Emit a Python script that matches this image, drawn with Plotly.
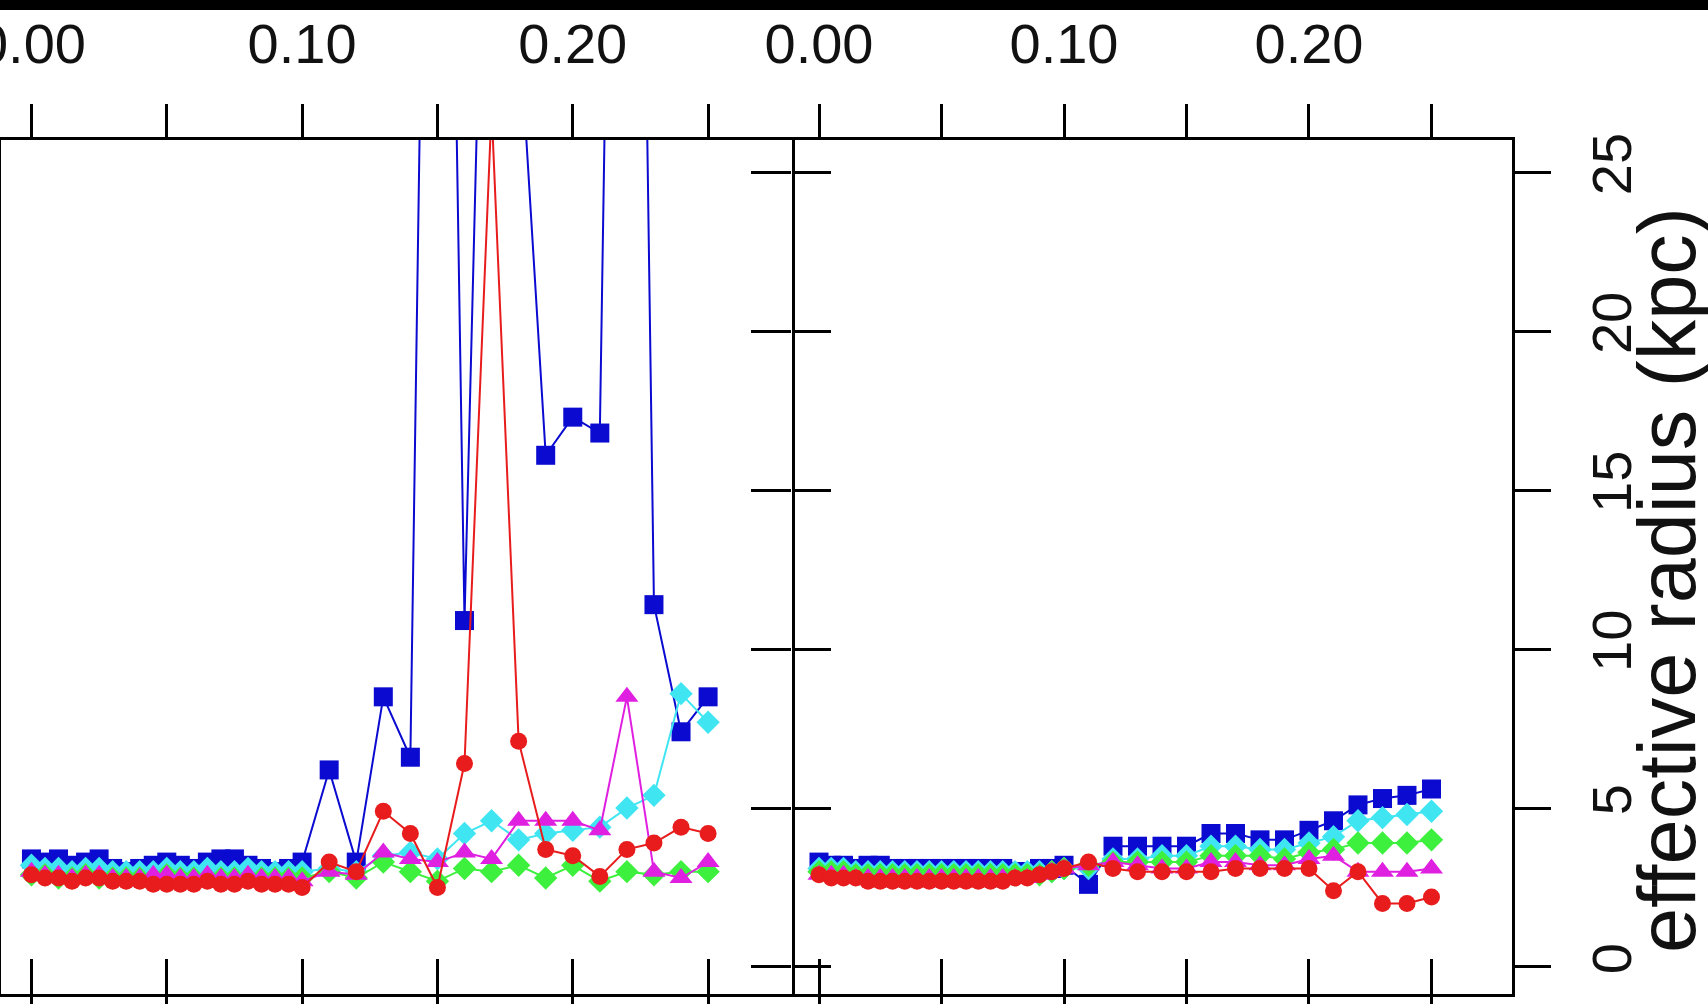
import plotly.graph_objects as go

W, H = 1708, 1004

# ---------------- data ----------------
x_grid = [0.000, 0.005, 0.010, 0.015, 0.020, 0.025, 0.030, 0.035, 0.040, 0.045,
          0.050, 0.055, 0.060, 0.065, 0.070, 0.075, 0.080, 0.085, 0.090, 0.095,
          0.100, 0.11, 0.12, 0.13, 0.14, 0.15, 0.16, 0.17, 0.18, 0.19,
          0.20, 0.21, 0.22, 0.23, 0.24, 0.25]

left_blue = [3.4, 3.3, 3.4, 3.2, 3.3, 3.4, 3.1, 3.0, 3.1, 3.2, 3.3, 3.2, 3.1, 3.3, 3.4, 3.4, 3.2, 3.1, 3.0, 3.1,
             3.3, 6.2, 3.3, 8.5, 6.6, 64.0, 10.9, 45.0, 30.0, 16.1, 17.3, 16.8, 71.0, 11.4, 7.4, 8.5]
left_cyan = [3.2, 3.1, 3.1, 3.0, 3.1, 3.1, 3.0, 3.0, 3.0, 3.0, 3.1, 3.0, 3.0, 3.1, 3.0, 3.0, 3.1, 3.0, 3.0, 3.0,
             3.0, 3.1, 3.0, 3.5, 3.6, 3.4, 4.2, 4.6, 4.0, 4.2, 4.3, 4.4, 5.0, 5.4, 8.6, 7.7]
left_green = [2.9, 2.9, 2.8, 2.8, 2.9, 2.8, 2.8, 2.8, 2.8, 2.8, 2.9, 2.8, 2.8, 2.8, 2.8, 2.8, 2.8, 2.8, 2.8, 2.8,
              2.8, 3.0, 2.8, 3.3, 3.0, 2.7, 3.1, 3.0, 3.2, 2.8, 3.2, 2.7, 3.0, 2.9, 3.0, 3.0]
left_magenta = [3.0, 2.9, 2.9, 2.8, 2.9, 2.9, 2.8, 2.8, 2.8, 2.9, 2.9, 2.8, 2.8, 2.9, 2.8, 2.8, 2.9, 2.8, 2.8, 2.8,
                2.7, 3.0, 2.9, 3.6, 3.4, 3.3, 3.6, 3.4, 4.6, 4.6, 4.6, 4.3, 8.5, 3.0, 2.8, 3.3]
left_red = [2.9, 2.8, 2.8, 2.7, 2.8, 2.8, 2.7, 2.7, 2.7, 2.6, 2.6, 2.6, 2.6, 2.7, 2.6, 2.6, 2.7, 2.6, 2.6, 2.6,
            2.5, 3.3, 3.0, 4.9, 4.2, 2.5, 6.4, 27.0, 7.1, 3.7, 3.5, 2.85, 3.7, 3.9, 4.4, 4.2]

right_blue = [3.3, 3.2, 3.2, 3.1, 3.2, 3.2, 3.1, 3.1, 3.1, 3.1, 3.1, 3.1, 3.1, 3.1, 3.1, 3.1, 3.0, 3.0, 3.1, 3.1,
              3.2, 2.6, 3.8, 3.8, 3.8, 3.8, 4.2, 4.2, 4.0, 4.0, 4.3, 4.6, 5.1, 5.3, 5.4, 5.6]
right_cyan = [3.1, 3.1, 3.1, 3.0, 3.0, 3.0, 3.0, 3.0, 3.0, 3.0, 3.0, 3.0, 3.0, 3.0, 3.0, 3.0, 3.0, 3.0, 3.0, 3.0,
              3.1, 3.1, 3.4, 3.4, 3.5, 3.5, 3.8, 3.8, 3.7, 3.7, 3.9, 4.1, 4.6, 4.7, 4.8, 4.9]
right_green = [3.0, 3.0, 3.0, 2.9, 2.9, 2.9, 2.9, 2.9, 2.9, 2.9, 2.9, 2.9, 2.9, 2.9, 2.9, 2.9, 2.9, 2.9, 2.9, 3.0,
               3.1, 3.2, 3.3, 3.3, 3.3, 3.3, 3.5, 3.5, 3.5, 3.4, 3.6, 3.7, 3.9, 3.9, 3.9, 4.0]
right_magenta = [2.9, 2.9, 2.9, 2.8, 2.8, 2.8, 2.8, 2.8, 2.8, 2.8, 2.8, 2.8, 2.8, 2.8, 2.8, 2.8, 2.8, 2.8, 2.9, 3.0,
                 3.1, 3.2, 3.3, 3.2, 3.1, 3.1, 3.3, 3.3, 3.2, 3.2, 3.4, 3.5, 3.0, 3.0, 3.0, 3.1]
right_red = [2.9, 2.8, 2.8, 2.8, 2.7, 2.7, 2.7, 2.7, 2.7, 2.7, 2.7, 2.7, 2.7, 2.7, 2.7, 2.7, 2.8, 2.8, 2.9, 3.0,
             3.1, 3.3, 3.1, 3.0, 3.0, 3.0, 3.0, 3.1, 3.1, 3.1, 3.1, 2.4, 3.0, 2.0, 2.0, 2.2]

x_tick_vals = [0.00, 0.05, 0.10, 0.15, 0.20, 0.25]
x_tick_text = ["0.00", "", "0.10", "", "0.20", ""]
y_tick_vals = [0, 5, 10, 15, 20, 25]
y_tick_text = ["0", "5", "10", "15", "20", "25"]
y_title = "effective radius (kpc)"

series_style = [
    ("blue", "#0a0ad0", "square", 19),
    ("cyan", "#3fe6f2", "diamond", 18),
    ("green", "#3ef03e", "diamond", 18),
    ("magenta", "#e020e0", "triangle-up", 20),
    ("red", "#e81c1c", "circle", 17),
]

left_series = [left_blue, left_cyan, left_green, left_magenta, left_red]
right_series = [right_blue, right_cyan, right_green, right_magenta, right_red]

# ---------------- geometry ----------------
def px_x(p):
    return p / W

def px_y(p):
    return 1 - p / H

left_dom = [px_x(1), px_x(792)]
right_dom = [px_x(792), px_x(1512)]
y_dom = [px_y(994), px_y(140)]
x_range_left = [-0.01125, 0.2810]
x_range_right = [-0.01102, 0.28286]
y_range = [-0.85, 26.02]

fig = go.Figure()

for vals, (name, col, sym, sz) in zip(left_series, series_style):
    fig.add_trace(go.Scatter(x=x_grid, y=vals, mode="lines+markers", name=name,
                             line=dict(color=col, width=2),
                             marker=dict(color=col, symbol=sym, size=sz),
                             xaxis="x", yaxis="y", showlegend=False))
for vals, (name, col, sym, sz) in zip(right_series, series_style):
    fig.add_trace(go.Scatter(x=x_grid, y=vals, mode="lines+markers", name=name,
                             line=dict(color=col, width=2),
                             marker=dict(color=col, symbol=sym, size=sz),
                             xaxis="x2", yaxis="y2", showlegend=False))

# invisible helper traces so the extra tick-only axes get drawn
for xa, ya in [("x3", "y"), ("x4", "y2"), ("x2", "y3")]:
    fig.add_trace(go.Scatter(x=x_grid[:1], y=left_red[:1], mode="markers",
                             marker=dict(opacity=0, size=1), hoverinfo="skip",
                             xaxis=xa, yaxis=ya, showlegend=False))

tick_font = dict(family="Liberation Sans, Arial, sans-serif", size=56, color="#111111")
LW = 3

common_x = dict(tickvals=x_tick_vals, ticktext=x_tick_text, ticks="outside", ticklen=33,
                tickwidth=LW, tickcolor="black", showline=True, linewidth=LW, linecolor="black",
                mirror="ticks", showgrid=False, zeroline=False, side="top",
                tickfont=tick_font, automargin=False, ticklabelstandoff=19,
                ticklabeloverflow="allow")
common_xin = dict(tickvals=x_tick_vals, ticks="inside", ticklen=35, tickwidth=LW, tickcolor="black",
                  showline=False, showgrid=False, zeroline=False, showticklabels=False,
                  side="bottom", automargin=False)
ybase = dict(tickvals=y_tick_vals, ticks="outside", tickwidth=LW, tickcolor="black",
             showgrid=False, zeroline=False, automargin=False, range=y_range, domain=y_dom)

fig.update_layout(
    width=W, height=H,
    margin=dict(l=0, r=0, t=0, b=0, pad=0),
    paper_bgcolor="white", plot_bgcolor="white",
    xaxis=dict(domain=left_dom, range=x_range_left, anchor="y", **common_x),
    xaxis2=dict(domain=right_dom, range=x_range_right, anchor="y2", **common_x),
    xaxis3=dict(domain=left_dom, range=x_range_left, anchor="y", overlaying="x", **common_xin),
    xaxis4=dict(domain=right_dom, range=x_range_right, anchor="y2", overlaying="x2", **common_xin),
    # left panel: frame line on both sides, ticks poking out to the right
    yaxis=dict(anchor="x", side="left", showticklabels=False, ticklen=36,
               showline=True, linewidth=LW, linecolor="black", mirror="ticks", **ybase),
    # right panel: labelled axis on the right
    yaxis2=dict(anchor="x2", side="right", showticklabels=True, ticktext=y_tick_text,
                tickangle=-90, ticklabelstandoff=13, tickfont=tick_font, ticklen=36,
                showline=True, linewidth=LW, linecolor="black", mirror=False, **ybase),
    # right panel: ticks poking out to the left of the shared border
    yaxis3=dict(anchor="x2", side="left", overlaying="y2", showticklabels=False, ticklen=40,
                showline=False, **ybase),
    showlegend=False,
)

fig.add_annotation(text=y_title, textangle=-90, xref="paper", yref="paper",
                   x=px_x(1667), y=px_y(580), xanchor="center", yanchor="middle",
                   showarrow=False, font=dict(family="Liberation Sans, Arial, sans-serif",
                                              size=81, color="#111111"))

# black band at the top edge of the scanned page
fig.add_shape(type="rect", xref="paper", yref="paper", x0=0, x1=1, y0=px_y(10), y1=1,
              fillcolor="black", line=dict(width=0), layer="above")

fig.write_html("out.html")
